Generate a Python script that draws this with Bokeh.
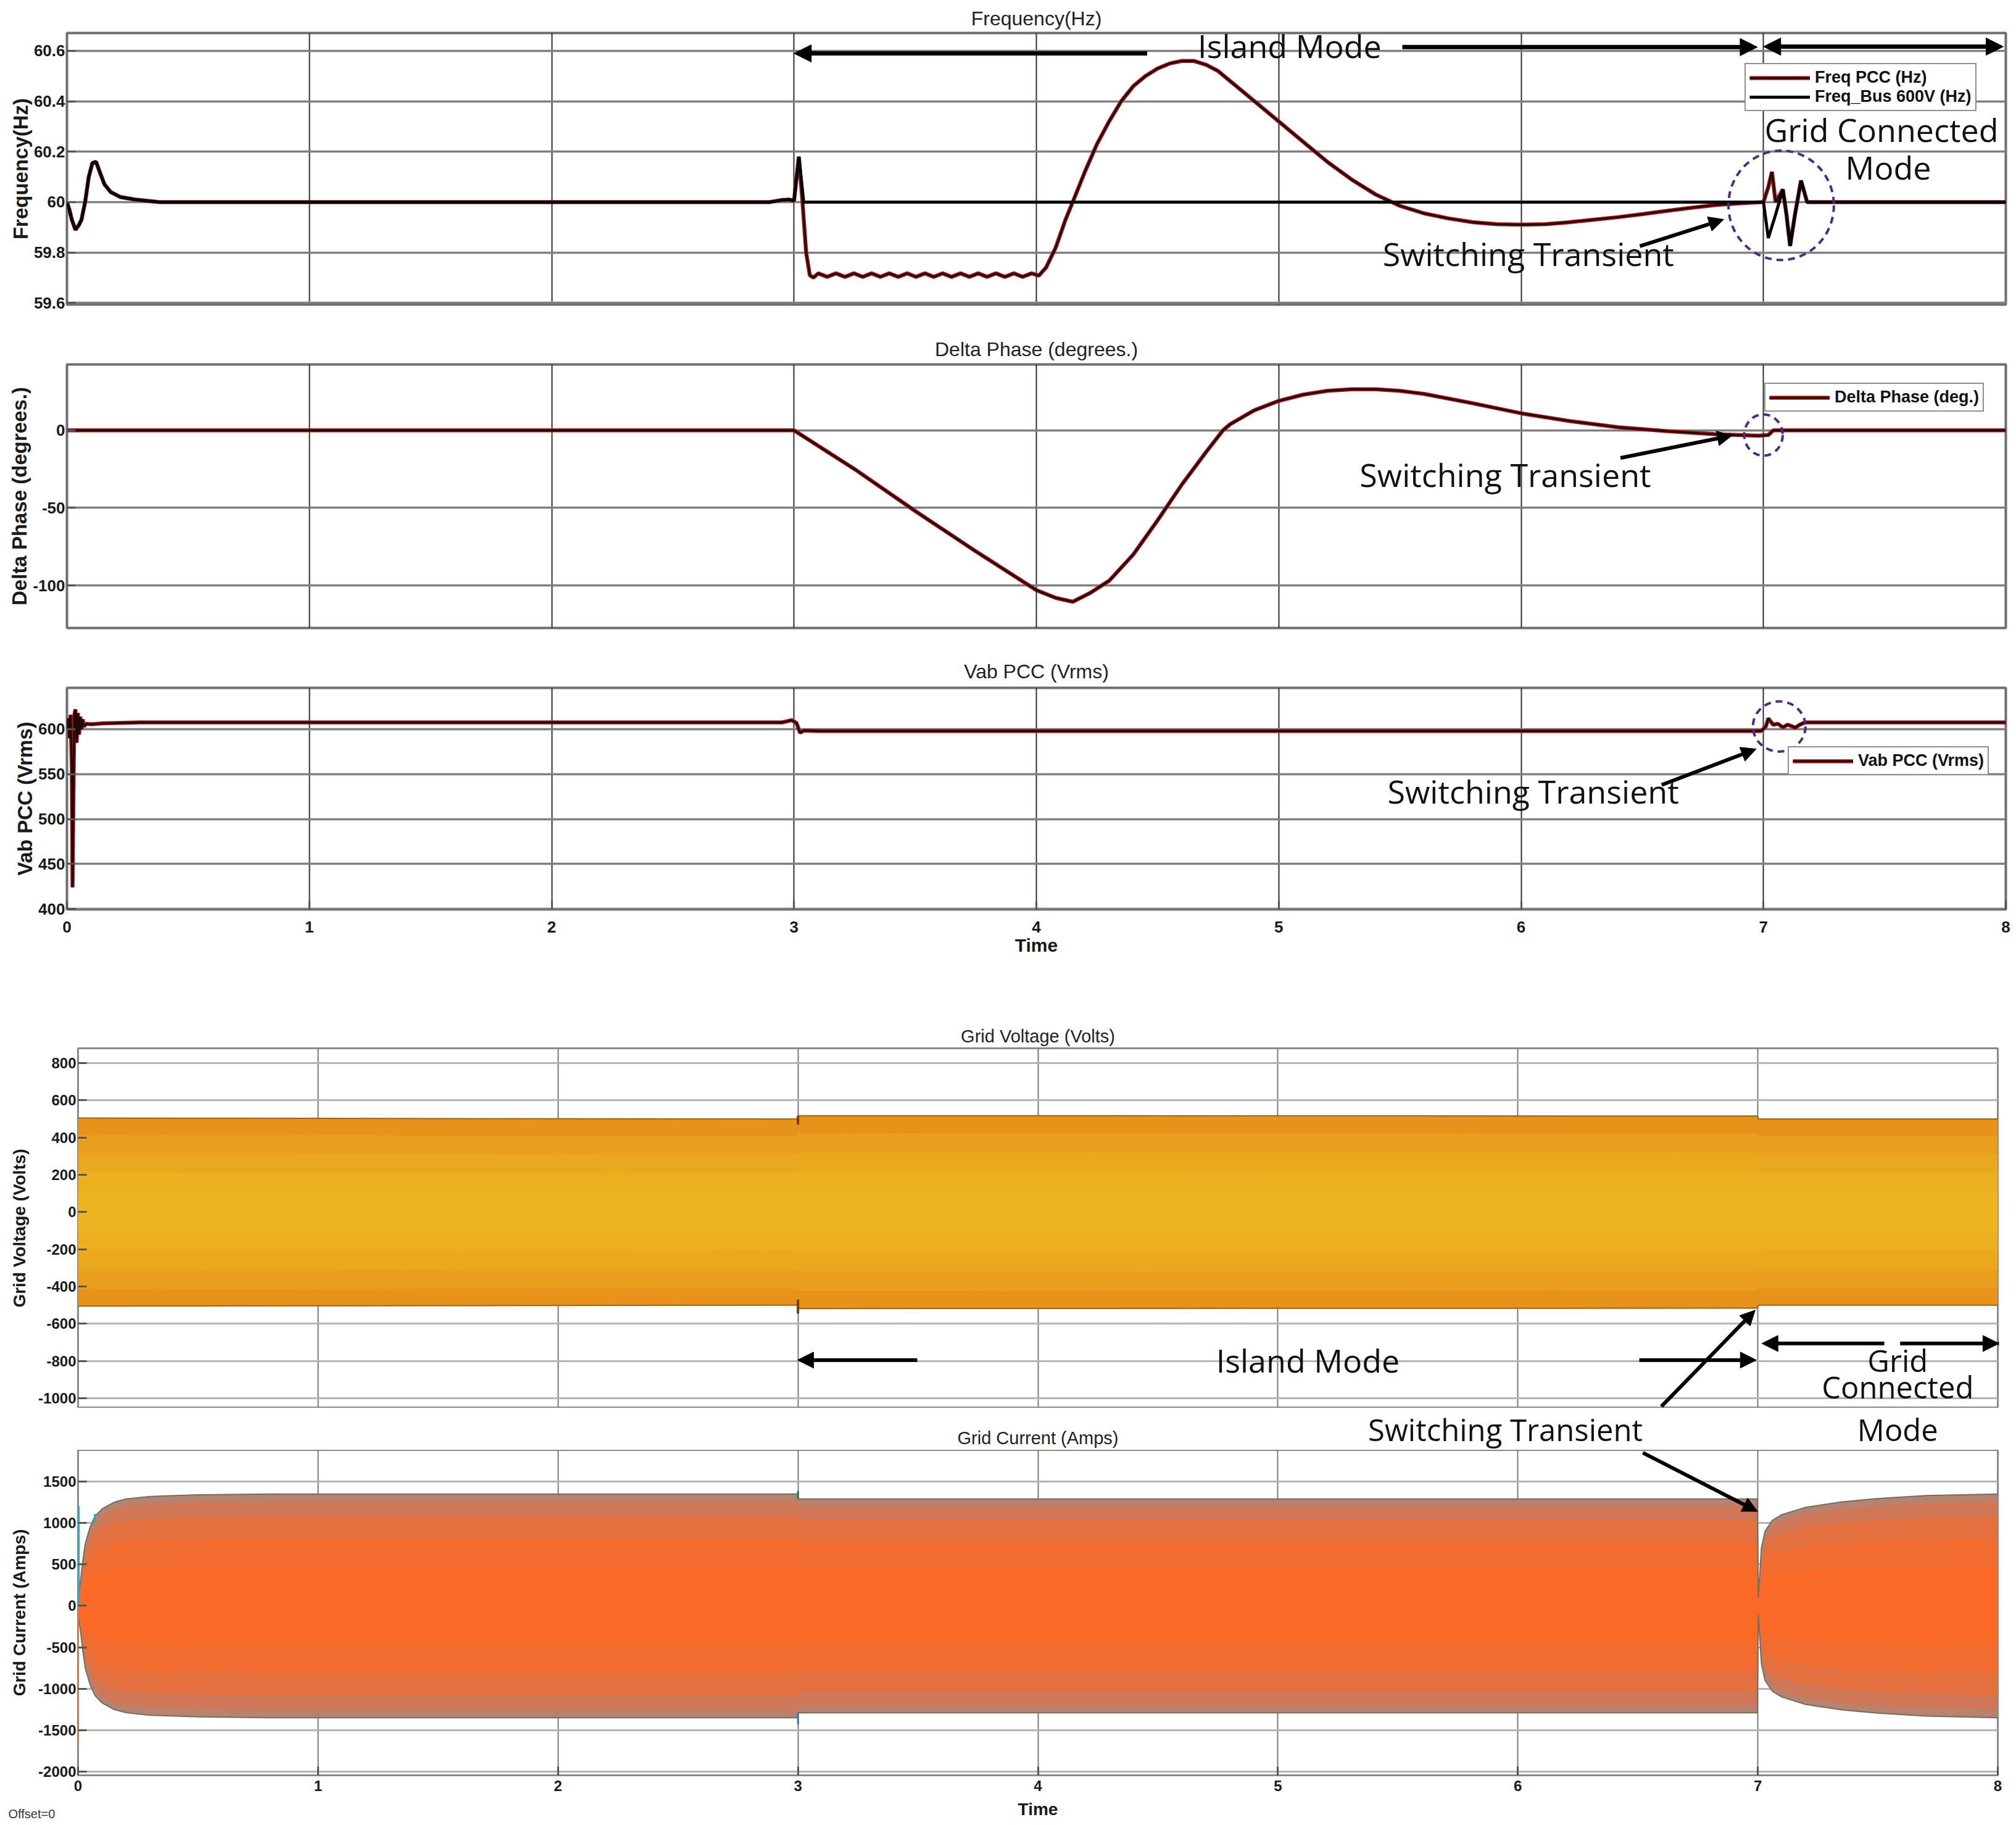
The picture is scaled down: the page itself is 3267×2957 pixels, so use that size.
import numpy as np
from bokeh.plotting import figure
from bokeh.models import (Range1d, FixedTicker, CustomJSTickFormatter, Label, Arrow,
                          NormalHead, Legend, LegendItem)
from bokeh.layouts import column
from bokeh.embed import file_html
from bokeh.resources import INLINE

# ------------------------------------------------------------------ data
time_ticks = [0, 1, 2, 3, 4, 5, 6, 7, 8]

freq_ticks = [59.6, 59.8, 60.0, 60.2, 60.4, 60.6]
freq_pcc_t = [0.0, 0.01, 0.02, 0.035, 0.05, 0.06, 0.075, 0.09, 0.105, 0.12, 0.135, 0.155, 0.18, 0.22,
              0.28, 0.38, 2.9, 2.95, 2.98, 3.0, 3.02, 3.035, 3.05, 3.065, 3.08,
              3.10, 3.137, 3.173, 3.21, 3.247, 3.283, 3.32, 3.357, 3.393, 3.43, 3.467, 3.503, 3.54,
              3.577, 3.613, 3.65, 3.687, 3.723, 3.76, 3.797, 3.833, 3.87, 3.907, 3.943, 3.98, 4.01,
              4.04, 4.08, 4.12, 4.15, 4.2, 4.25, 4.3, 4.35, 4.4, 4.45, 4.5, 4.55, 4.6, 4.65, 4.7, 4.75,
              4.8, 4.9, 5.0, 5.1, 5.2, 5.3, 5.4, 5.5, 5.6, 5.7, 5.8, 5.9, 6.0, 6.1, 6.2, 6.3, 6.4, 6.5,
              6.6, 6.7, 6.8, 6.9, 7.0, 7.02, 7.035, 7.05, 7.08, 7.095, 7.11, 7.13, 7.155, 7.18, 8.0]
freq_pcc = [60.0, 59.97, 59.93, 59.89, 59.91, 59.93, 60.0, 60.10, 60.155, 60.16, 60.12, 60.07, 60.04, 60.02,
            60.01, 60.0, 60.0, 60.008, 60.01, 60.005, 60.18, 60.0, 59.80, 59.71, 59.70,
            59.717, 59.703, 59.717, 59.703, 59.717, 59.703, 59.717, 59.703, 59.717, 59.703, 59.717,
            59.703, 59.717, 59.703, 59.717, 59.703, 59.717, 59.703, 59.717, 59.703, 59.717, 59.703,
            59.717, 59.703, 59.717, 59.708,
            59.74, 59.82, 59.93, 60.0, 60.12, 60.23, 60.32, 60.40, 60.46, 60.50, 60.53, 60.55, 60.56,
            60.56, 60.545, 60.52, 60.48, 60.40, 60.32, 60.24, 60.16, 60.09, 60.03, 59.985, 59.955,
            59.935, 59.92, 59.912, 59.91, 59.912, 59.92, 59.93, 59.94, 59.952, 59.965, 59.977, 59.988,
            59.995, 60.0, 60.06, 60.12, 60.0, 60.05, 59.95, 59.826, 59.95, 60.085, 60.0, 60.0]
freq_bus_t = [0.0, 0.01, 0.02, 0.035, 0.05, 0.06, 0.075, 0.09, 0.105, 0.12, 0.135, 0.155, 0.18, 0.22,
              0.28, 0.38, 2.9, 2.95, 2.98, 3.0, 3.02, 3.04, 7.0, 7.02, 7.05, 7.08, 7.095, 7.11, 7.13,
              7.155, 7.18, 8.0]
freq_bus = [60.0, 59.97, 59.93, 59.89, 59.91, 59.93, 60.0, 60.10, 60.155, 60.16, 60.12, 60.07, 60.04, 60.02,
            60.01, 60.0, 60.0, 60.008, 60.01, 60.005, 60.18, 60.0, 60.0, 59.857, 59.95, 60.05, 59.95,
            59.826, 59.95, 60.085, 60.0, 60.0]

dphase_ticks = [-100, -50, 0]
dphase_t = [0.0, 3.0, 3.25, 3.5, 3.75, 4.0, 4.08, 4.15, 4.22, 4.3, 4.4, 4.5, 4.6, 4.7, 4.77, 4.8, 4.9,
            5.0, 5.1, 5.2, 5.3, 5.4, 5.5, 5.6, 5.8, 6.0, 6.2, 6.4, 6.6, 6.8, 6.98, 7.02, 7.04, 8.0]
dphase = [0, 0, -25, -52, -78, -103, -108, -110.5, -105, -97, -80, -58, -35, -14, 0, 4, 13,
          19, 23, 25.5, 26.5, 26.5, 25.5, 23.5, 17.5, 11, 6, 2, -0.5, -2.5, -3.5, -3, 0, 0]

vab_ticks = [400, 450, 500, 550, 600]
vab_t = [0.0, 0.005, 0.01, 0.015, 0.02, 0.023, 0.026, 0.03, 0.035, 0.04, 0.045, 0.05, 0.055, 0.06,
         0.065, 0.07, 0.08, 0.1, 0.15, 0.3, 1.0, 2.95, 2.99, 3.01, 3.025, 3.04, 3.1, 6.99, 7.01, 7.02,
         7.04, 7.06, 7.08, 7.10, 7.12, 7.13, 7.15, 7.17, 7.2, 8.0]
vab = [600, 612, 590, 616, 560, 424, 505, 615, 622, 585, 618, 594, 614, 600,
       611, 603, 606, 605.5, 606.5, 607.5, 607.5, 607.5, 610, 607, 596, 598.5, 598, 598, 603, 612,
       605, 606, 602, 605, 603, 601.5, 605, 607.5, 607.5, 607.5]

vgrid_ticks = [-1000, -800, -600, -400, -200, 0, 200, 400, 600, 800]
vgrid_env_t = [0.0, 2.998, 3.002, 6.998, 7.002, 8.0]
vgrid_env = [505, 500, 518, 516, 500, 500]
vgrid_spike_t = [3.0, 3.0]
vgrid_spike_lo = [-545, 470]
vgrid_spike_hi = [-470, 518]

igrid_ticks = [-2000, -1500, -1000, -500, 0, 500, 1000, 1500]
igrid_env_t = [0.0, 0.01, 0.02, 0.03, 0.05, 0.07, 0.1, 0.15, 0.2, 0.3, 0.5, 0.8, 2.998, 3.002,
               6.998, 7.002, 7.015, 7.03, 7.06, 7.1, 7.2, 7.35, 7.5, 7.7, 8.0]
igrid_env = [100, 300, 550, 750, 950, 1080, 1170, 1250, 1290, 1320, 1340, 1350, 1350, 1290,
             1290, 100, 700, 900, 1030, 1100, 1190, 1255, 1295, 1330, 1350]
igrid_spike_t = [0.003, 0.0, 0.07, 3.0, 3.0]
igrid_spike_lo = [0, -1700, 1000, 1290, -1430]
igrid_spike_hi = [1200, 0, 1110, 1385, -1290]
igrid_spike_color = ["#2aa8c8", "#f07030", "#2aa8c8", "#1a7a50", "#2a80b0"]

# ------------------------------------------------------------------ styling helpers
W = 3267
TICK_FONT = "Liberation Sans"
ANN_FONT = "Open Sans"


def plain_fmt():
    return CustomJSTickFormatter(code="return String(Math.round(tick*10)/10)")


def make_fig(height, yr, left, right, top, bottom, yticks, ylabel, title_text, title_size,
             title_standoff, top_style=True, show_x=False):
    p = figure(width=W, height=height, x_range=Range1d(0, 8), y_range=Range1d(*yr),
               output_backend="svg", toolbar_location=None,
               x_axis_location="below" if show_x else None,
               min_border_left=left, min_border_right=right,
               min_border_top=top, min_border_bottom=bottom)
    p.frame_align = False
    p.background_fill_color = "white"
    p.border_fill_color = "white"
    p.outline_line_color = "#6e6e6e" if top_style else "#8a8a8a"
    p.outline_line_width = 4 if top_style else 3
    p.title.text = title_text
    p.title.align = "center"
    p.title.text_font = "Liberation Sans"
    p.title.text_font_style = "normal"
    p.title.text_font_size = title_size
    p.title.text_color = "#222222"
    p.title.standoff = title_standoff
    p.xgrid[0].ticker = FixedTicker(ticks=time_ticks)
    p.yaxis.ticker = FixedTicker(ticks=yticks)
    p.yaxis.formatter = plain_fmt()
    axes = [p.yaxis[0]] + ([p.xaxis[0]] if show_x else [])
    for ax in axes:
        ax.axis_line_color = None
        ax.major_tick_in = 14
        ax.major_tick_out = 0
        ax.minor_tick_in = 0
        ax.minor_tick_out = 0
        ax.major_tick_line_color = "#555555"
        ax.major_tick_line_width = 3
        ax.major_label_text_font = TICK_FONT
        ax.major_label_text_font_style = "bold"
        ax.major_label_text_color = "#1a1a1a"
    p.yaxis.major_label_text_font_size = "26px" if top_style else "24px"
    p.yaxis.major_label_standoff = 3
    p.yaxis.axis_label = ylabel
    p.yaxis.axis_label_text_font = TICK_FONT
    p.yaxis.axis_label_text_font_style = "bold"
    p.yaxis.axis_label_text_font_size = "33px" if top_style else "28px"
    p.yaxis.axis_label_text_color = "#1a1a1a"
    p.yaxis.axis_label_standoff = 0 if top_style else 12
    if show_x:
        p.xaxis.ticker = FixedTicker(ticks=time_ticks)
        p.xaxis.formatter = plain_fmt()
        p.xaxis.major_label_text_font_size = "26px" if top_style else "24px"
        p.xaxis.major_label_standoff = 19 if top_style else 8
        if top_style:
            p.xaxis.axis_label = "Time"
            p.xaxis.axis_label_text_font = TICK_FONT
            p.xaxis.axis_label_text_font_style = "bold"
            p.xaxis.axis_label_text_font_size = "30px"
            p.xaxis.axis_label_text_color = "#1a1a1a"
            p.xaxis.axis_label_standoff = 1
    p.ygrid.grid_line_color = "#7f7f7f" if top_style else "#b4b4b4"
    p.ygrid.grid_line_width = 3.5 if top_style else 3
    p.xgrid.grid_line_color = "#2e2e2e" if top_style else "#7a7a7a"
    p.xgrid.grid_line_width = 2
    return p


def spacer(height, xr, left, right):
    s = figure(width=W, height=height, x_range=Range1d(*xr), y_range=Range1d(0, 1),
               x_axis_type=None, y_axis_type=None, output_backend="svg", toolbar_location=None,
               min_border_left=left, min_border_right=right, min_border_top=0, min_border_bottom=0)
    s.frame_align = False
    s.outline_line_color = None
    s.background_fill_color = "white"
    s.border_fill_color = "white"
    return s


def text(p, x, y, txt, font, size, style="normal", align="center", color="#111111"):
    p.add_layout(Label(x=x, y=y, text=txt, text_font=font, text_font_size=size,
                       text_font_style=style, text_color=color, text_align=align,
                       text_baseline="middle"))


def note(p, x, y, txt, size="52px"):
    text(p, x, y, txt, ANN_FONT, size)


def arrow(p, x0, y0, x1, y1, both=False, lw=7, size=28):
    kw = dict(end=NormalHead(size=size, fill_color="black", line_color="black", line_width=1),
              x_start=x0, y_start=y0, x_end=x1, y_end=y1, line_width=lw, line_color="black")
    kw["start"] = (NormalHead(size=size, fill_color="black", line_color="black", line_width=1)
                   if both else None)
    p.add_layout(Arrow(**kw))


def ring(p, x, y, w, h):
    p.ellipse(x=[x], y=[y], width=[w], height=[h], fill_alpha=0, line_color="#4b2c80",
              line_width=4, line_dash="11 8")


def legend(p, items, loc):
    lg = Legend(items=items, location=loc, orientation="vertical",
                label_text_font=TICK_FONT, label_text_font_style="bold",
                label_text_font_size="27px", label_text_color="#111111",
                glyph_width=98, glyph_height=24, label_standoff=8, padding=6, spacing=0,
                margin=0, border_line_color="#222222", border_line_width=2,
                background_fill_color="white", background_fill_alpha=1.0)
    p.add_layout(lg)


def pcc_line(p, t, v):
    r1 = p.line(t, v, line_color="#a01c1c", line_width=6.5)
    r2 = p.line(t, v, line_color="#240606", line_width=3.2)
    return [r1, r2]


# ------------------------------------------------------------------ panel 1: frequency
p1 = make_fig(538, (59.593, 60.671), 108, 17, 53, 45, freq_ticks, "Frequency(Hz)",
              "Frequency(Hz)", "32px", 12)
r_pcc = pcc_line(p1, freq_pcc_t, freq_pcc)
r_bus = p1.line(freq_bus_t, freq_bus, line_color="#050505", line_width=5)
legend(p1, [LegendItem(label="Freq PCC (Hz)", renderers=r_pcc),
            LegendItem(label="Freq_Bus 600V (Hz)", renderers=[r_bus])], (2719, 313))
note(p1, 5.045, 60.622, "Island Mode")
arrow(p1, 4.457, 60.59, 3.0, 60.59)
arrow(p1, 5.51, 60.615, 6.975, 60.615)
arrow(p1, 7.0, 60.617, 7.99, 60.617, both=True)
note(p1, 7.487, 60.29, "Grid Connected")
note(p1, 7.515, 60.139, "Mode")
ring(p1, 7.073, 59.987, 0.435, 0.434)
note(p1, 6.03, 59.796, "Switching Transient")
arrow(p1, 6.49, 59.825, 6.836, 59.931, lw=6, size=24)

# ------------------------------------------------------------------ panel 2: delta phase
p2 = make_fig(520, (-127.4, 42.5), 108, 17, 39, 41, dphase_ticks, "Delta Phase (degrees.)",
              "Delta Phase (degrees.)", "32px", 14)
r_dp = pcc_line(p2, dphase_t, dphase)
legend(p2, [LegendItem(label="Delta Phase (deg.)", renderers=r_dp)], (2751, 350))
ring(p2, 7.0, -3.0, 0.159, 26.6)
note(p2, 5.935, -28.2, "Switching Transient")
arrow(p2, 6.41, -17.8, 6.871, -3.3, lw=6, size=24)

# ------------------------------------------------------------------ panel 3: Vab PCC
p3 = make_fig(550, (399.5, 646), 108, 17, 44, 135, vab_ticks, "Vab PCC (Vrms)",
              "Vab PCC (Vrms)", "32px", 18, show_x=True)
r_vab = pcc_line(p3, vab_t, vab)
legend(p3, [LegendItem(label="Vab PCC (Vrms)", renderers=r_vab)], (2789, 217))
ring(p3, 7.065, 603, 0.217, 56)
note(p3, 6.05, 531, "Switching Transient")
arrow(p3, 6.58, 538, 6.97, 578, lw=6, size=24)

# ------------------------------------------------------------------ panel 4: grid voltage
p4 = make_fig(673, (-1053, 880), 126, 30, 90, 0, vgrid_ticks, "Grid Voltage (Volts)",
              "Grid Voltage (Volts)", "29px", 8, top_style=False)
venv = np.array(vgrid_env, dtype=float)
for frac, col in zip([1.0, 0.82, 0.62, 0.42, 0.22],
                     ["#E6921B", "#E99F1D", "#EAA81F", "#ECAF20", "#EDB422"]):
    p4.varea(x=vgrid_env_t, y1=-venv * frac, y2=venv * frac, fill_color=col)
p4.line(vgrid_env_t, venv, line_color="#9a6418", line_width=2)
p4.line(vgrid_env_t, -venv, line_color="#9a6418", line_width=2)
p4.segment(x0=vgrid_spike_t, y0=vgrid_spike_lo, x1=vgrid_spike_t, y1=vgrid_spike_hi,
           line_color="#7a3a10", line_width=4)
note(p4, 5.125, -795, "Island Mode")
arrow(p4, 3.497, -795, 2.998, -795, lw=6, size=26)
arrow(p4, 6.506, -795, 6.994, -795, lw=6, size=26)
arrow(p4, 7.527, -706, 7.017, -706, lw=6, size=26)
arrow(p4, 7.593, -706, 8.005, -706, lw=6, size=26)
note(p4, 7.583, -797, "Grid", size="49px")
note(p4, 7.583, -939, "Connected", size="49px")
arrow(p4, 6.598, -1044, 6.989, -527, lw=6, size=24)

# ------------------------------------------------------------------ gap between panels 4 and 5
gap = spacer(68, (0, 8), 126, 30)
text(gap, 4.0, 0.294, "Grid Current (Amps)", "Liberation Sans", "29px", color="#222222")
note(gap, 5.948, 0.5, "Switching Transient", size="49px")
note(gap, 7.583, 0.5, "Mode", size="49px")

# ------------------------------------------------------------------ panel 5: grid current
p5 = make_fig(564, (-2045, 1880), 126, 30, 0, 37, igrid_ticks, "Grid Current (Amps)",
              "", "0px", 0, top_style=False, show_x=True)
ienv = np.array(igrid_env, dtype=float)
for frac, col in zip([1.0, 0.93, 0.8, 0.6, 0.35],
                     ["#B8826E", "#CF7756", "#E4703F", "#F26B2F", "#FA6926"]):
    p5.varea(x=igrid_env_t, y1=-ienv * frac, y2=ienv * frac, fill_color=col)
p5.line(igrid_env_t, ienv, line_color="#6f6f62", line_width=2)
p5.line(igrid_env_t, -ienv, line_color="#6f6f62", line_width=2)
p5.segment(x0=igrid_spike_t, y0=igrid_spike_lo, x1=igrid_spike_t, y1=igrid_spike_hi,
           line_color=igrid_spike_color, line_width=3)
arrow(p5, 6.521, 1847, 6.999, 1139, lw=6, size=24)

# ------------------------------------------------------------------ bottom strip
px_per_unit = (3237 - 126) / 8.0
bot = spacer(44, (-126 / px_per_unit, (W - 126) / px_per_unit), 0, 0)
text(bot, 4.0, 0.59, "Time", "Liberation Sans", "28px", style="bold", color="#1a1a1a")
text(bot, -113 / px_per_unit, 0.41, "Offset=0", "Liberation Sans", "20px", align="left",
     color="#333333")

layout = column(p1, p2, p3, p4, gap, p5, bot)
open("out.html", "w").write(file_html(layout, INLINE))
